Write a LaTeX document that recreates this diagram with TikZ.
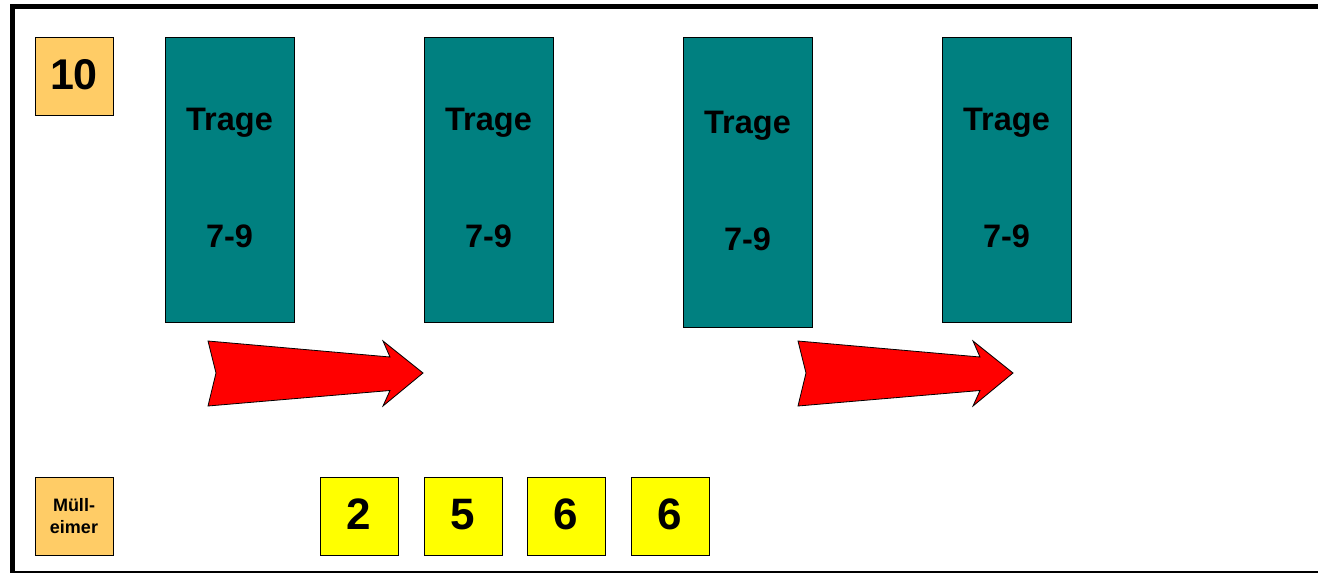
\documentclass[tikz,border=0pt]{standalone}
\usepackage{fontspec}
\setmainfont{Liberation Sans}
\definecolor{tragegruen}{HTML}{008080}
\definecolor{kistenorange}{HTML}{FFCC66}
\definecolor{zahlgelb}{HTML}{FFFF00}
\definecolor{pfeilrot}{HTML}{FF0000}

\begin{document}
\begin{tikzpicture}[x=1pt,y=-1pt,font=\bfseries]

      \useasboundingbox (0,0) rectangle (1318,574);

      % Rahmen
      \draw[line width=5pt] (1318,6.5) -- (12.5,6.5) -- (12.5,573);
      \draw[line width=2pt] (10,572) -- (1318,572);

      \begin{scope}[every node/.style={draw,line width=.8pt,inner sep=0pt,
          minimum width=78pt,minimum height=78pt,text depth=5pt,text height=31pt}]
        \node[fill=kistenorange,font=\bfseries\fontsize{43}{43}\selectfont] (10) at (74,76) {10};
        \node[fill=zahlgelb,font=\bfseries\fontsize{44}{44}\selectfont] (z1) at (359,516) {2};
        \node[fill=zahlgelb,font=\bfseries\fontsize{44}{44}\selectfont] (z2) at (463,516) {5};
        \node[fill=zahlgelb,font=\bfseries\fontsize{44}{44}\selectfont] (z3) at (566,516) {6};
        \node[fill=zahlgelb,font=\bfseries\fontsize{44}{44}\selectfont] (z4) at (670,516) {6};
      \end{scope}

      \node[draw,line width=.8pt,fill=kistenorange,inner sep=0pt,minimum width=78pt,
        minimum height=78pt,align=center,font=\bfseries\fontsize{18}{22.5}\selectfont]
        (muell) at (74,516) {Müll-\\eimer};

      \begin{scope}[every node/.style={draw,line width=.8pt,fill=tragegruen,
          minimum width=129pt,minimum height=285pt}]
        \node (t1) at (229.5,179.5) {};
        \node (t2) at (488.5,179.5) {};
        \node[minimum height=290pt] (t3) at (747.5,182) {};
        \node (t4) at (1006.5,179.5) {};
      \end{scope}

      \begin{scope}[every node/.style={anchor=base,inner sep=0pt,
          font=\bfseries\fontsize{32.5}{32.5}\selectfont}]
        \node (t1o) at (229.5,130) {Trage};
        \node (t1u) at (229.5,247) {7-9};
        \node (t2o) at (488.5,130) {Trage};
        \node (t2u) at (488.5,247) {7-9};
        \node (t3o) at (747.5,133) {Trage};
        \node (t3u) at (747.5,250) {7-9};
        \node (t4o) at (1006.5,130) {Trage};
        \node (t4u) at (1006.5,247) {7-9};
      \end{scope}

      % Pfeile
      \begin{scope}[every path/.style={draw,line width=.8pt,fill=pfeilrot,line join=miter}]
        \path (208,341) -- (390,357) -- (383,341) -- (423,373) -- (383,406)
          -- (390,390.5) -- (208,406) -- (216,373) -- cycle;
        \path (798,341) -- (980,357) -- (973,341) -- (1013,373) -- (973,406)
          -- (980,390.5) -- (798,406) -- (806,373) -- cycle;
      \end{scope}

    \end{tikzpicture}
\end{document}
